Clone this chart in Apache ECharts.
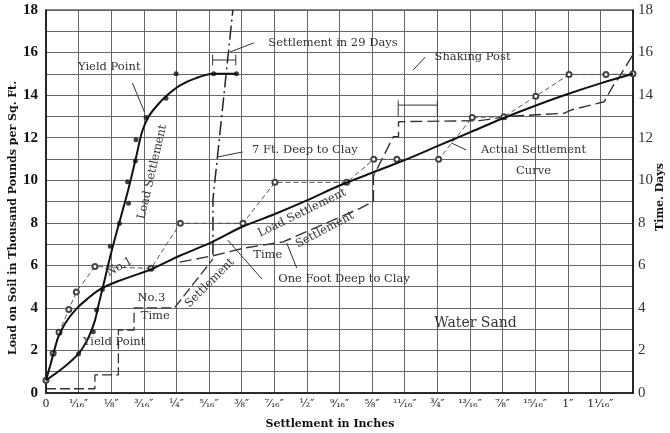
<!DOCTYPE html>
<html><head><meta charset="utf-8">
<script src="https://cdn.jsdelivr.net/npm/echarts@6/dist/echarts.min.js"></script>
<style>html,body{margin:0;padding:0;background:#fff}#c{width:670px;height:433px}</style>
</head><body><div id="c"></div>
<script>
// x in sixteenths of an inch, y in thousand lb/sq.ft (left) or days (right)
const xTickLabels = ["0","¹⁄₁₆″","⅛″","³⁄₁₆″","¼″","⁵⁄₁₆″","⅜″","⁷⁄₁₆″","½″","⁹⁄₁₆″","⅝″","¹¹⁄₁₆″","¾″","¹³⁄₁₆″","⅞″","¹⁵⁄₁₆″","1″","1¹⁄₁₆″",""];
const loadCurve = [[0,0.6],[0.5,1.15],[1.0,1.85],[1.3,2.6],[1.5,3.4],[1.62,4.2],[1.78,5.2],[1.95,6.3],[2.12,7.3],[2.3,8.3],[2.53,9.6],[2.75,11.0],[2.95,12.3],[3.15,13.0],[3.4,13.5],[3.68,13.95],[4.1,14.45],[4.6,14.8],[5.14,15.0],[5.84,15.0]];
const loadDots = [[1.0,1.85],[1.45,2.88],[1.55,3.9],[1.73,4.87],[1.97,6.9],[2.25,7.97],[2.53,8.92],[2.5,9.93],[2.74,10.9],[2.76,11.9],[3.07,12.95],[3.68,13.85],[3.99,15.0],[5.14,15.0],[5.84,15.0]];
const actualCurve = [[0,0.6],[0.15,1.4],[0.37,2.6],[0.6,3.3],[0.93,3.95],[1.25,4.4],[1.63,4.85],[2.2,5.25],[3.2,5.8],[4.1,6.45],[5.1,7.1],[6.0,7.8],[7,8.4],[8,9.05],[9,9.75],[10,10.35],[11,10.95],[12,11.6],[13,12.25],[14,12.9],[15,13.5],[16,14.05],[17,14.55],[18,15.0]];
const no1Points = [[0,0.6],[0.22,1.87],[0.4,2.85],[0.7,3.92],[0.93,4.75],[1.5,5.94],[3.22,5.86],[4.12,7.98],[6.04,7.98],[7.02,9.9],[9.22,9.9],[10.05,10.98],[10.76,10.98],[12.04,10.98],[13.07,12.95],[14.04,12.98],[15.02,13.95],[16.04,14.97],[17.17,14.97],[18,15.0]];
const timeNo3 = [[0,0.2],[1.5,0.2],[1.5,0.85],[2.22,0.85],[2.22,2.96],[2.7,2.96],[2.7,4.0],[3.94,4.0],[5.12,6.3]];
const timeMain = [[4.1,6.15],[5.12,6.45],[6.04,6.8],[7.27,7.1],[9.63,8.68],[10.04,9.0],[10.04,10.2],[10.65,12.04],[10.81,12.04],[10.81,12.75],[13.3,12.8],[14.2,13.0],[15.9,13.15],[16.1,13.3],[17.12,13.69],[17.37,14.39],[17.6,14.9],[18,15.9]];
const days29 = [[5.12,6.5],[5.12,9.1],[5.73,18]];

const notes = [
  {t:"Yield Point", at:[1.94,15.32], r:0},
  {t:"Settlement in 29 Days", at:[8.8,16.45], r:0},
  {t:"7 Ft. Deep to Clay", at:[7.94,11.42], r:0},
  {t:"Load Settlement", at:[3.26,10.39], r:77},
  {t:"No.1", at:[2.25,5.92], r:28},
  {t:"No.3", at:[3.23,4.46], r:0},
  {t:"Time", at:[3.35,3.62], r:0},
  {t:"Yield Point", at:[2.09,2.4], r:0},
  {t:"Settlement", at:[5.02,5.17], r:45},
  {t:"Load Settlement", at:[7.85,8.46], r:26},
  {t:"Time", at:[6.8,6.48], r:0},
  {t:"Settlement", at:[8.55,7.66], r:28},
  {t:"One Foot Deep to Clay", at:[9.14,5.36], r:0},
  {t:"Shaking Post", at:[13.08,15.79], r:0},
  {t:"Actual Settlement", at:[14.95,11.42], r:0},
  {t:"Curve", at:[14.95,10.43], r:0},
  {t:"Water Sand", at:[13.17,3.29], r:0, big:true}
];
const leaders = [
  [[2.65,14.57],[3.02,13.2]],
  [[6.37,16.45],[5.63,16.02]],
  [[6.03,11.33],[5.26,11.09]],
  [[6.62,5.36],[5.57,7.19]],
  [[7.69,5.87],[7.38,7.05]],
  [[11.63,15.79],[11.26,15.18]],
  [[12.89,11.42],[12.43,11.75]],
  [[5.11,15.65],[5.82,15.65]],
  [[5.11,15.4],[5.11,15.9]],
  [[5.82,15.4],[5.82,15.9]],
  [[10.8,13.53],[12.0,13.53]],
  [[10.8,13.0],[10.8,13.75]],
  [[12.0,13.0],[12.0,13.75]]
];

const serif = '"DejaVu Serif", "Liberation Serif", serif';
const chart = echarts.init(document.getElementById('c'), null, {renderer:'canvas'});
const yAx = (pos, bold) => ({
  type:'value', position:pos, min:0, max:18, interval:1,
  axisLine:{show:true, lineStyle:{color:'#111', width:1.5}},
  axisTick:{show:false},
  splitLine:{show:pos==='left', lineStyle:{color:'#666', width:1}},
  axisLabel:{color: bold ? '#111' : '#333', fontFamily:'"Liberation Serif", serif', fontWeight: bold ? 'bold' : 'normal', fontSize:15,
    margin: bold ? 8 : 5, formatter: v => (v % 2 === 0 ? String(v) : '')}
});
chart.setOption({
  animation:false,
  backgroundColor:'#fff',
  grid:{left:46, right:37, top:10, bottom:40, show:true, borderColor:'#111', borderWidth:1.2},
  xAxis:{type:'value', min:0, max:18, interval:1,
    axisLine:{show:true, lineStyle:{color:'#111', width:1.5}}, axisTick:{show:false},
    splitLine:{show:true, lineStyle:{color:'#666', width:1}},
    axisLabel:{color:'#222', fontFamily:serif, fontSize:11, margin:6, formatter: v => xTickLabels[Math.round(v)] || ''}},
  yAxis:[yAx('left', true), yAx('right', false)],
  series:[
    {type:'line', data:loadCurve, smooth:0.3, showSymbol:false, lineStyle:{color:'#111', width:2}, z:5},
    {type:'scatter', data:loadDots, symbol:'circle', symbolSize:5, itemStyle:{color:'#111'}, z:6},
    {type:'line', data:actualCurve, smooth:0.3, showSymbol:false, lineStyle:{color:'#111', width:2}, z:5},
    {type:'line', data:no1Points, symbol:'emptyCircle', symbolSize:5, showSymbol:true,
      itemStyle:{color:'#444', borderWidth:1}, lineStyle:{color:'#555', width:1, type:[5,3]}, z:4},
    {type:'line', yAxisIndex:1, data:timeNo3, showSymbol:false, lineStyle:{color:'#333', width:1.3, type:[10,4]}, z:3},
    {type:'line', yAxisIndex:1, data:timeMain, showSymbol:false, lineStyle:{color:'#333', width:1.4, type:[12,5]}, z:3},
    {type:'line', data:days29, showSymbol:false, lineStyle:{color:'#222', width:1.5, type:[14,4,2,4]}, z:3}
  ]
});

const px = p => chart.convertToPixel({gridIndex:0}, p);
const g = [];
notes.forEach(n => {
  const [x,y] = px(n.at);
  g.push({type:'text', x:x, y:y, rotation:n.r*Math.PI/180, z:20,
    style:{text:n.t, fill:'#333', font:(n.big ? '14px ' : '11.5px ') + serif, textAlign:'center', textVerticalAlign:'middle',
      backgroundColor: n.r ? null : null}});
});
leaders.forEach(l => {
  const a = px(l[0]), b = px(l[1]);
  g.push({type:'line', z:19, shape:{x1:a[0], y1:a[1], x2:b[0], y2:b[1]}, style:{stroke:'#333', lineWidth:1}});
});
g.push({type:'text', x:13, y:218, rotation:Math.PI/2, z:20,
  style:{text:'Load on Soil in Thousand Pounds per Sq. Ft.', fill:'#111', font:'bold 11px ' + serif, textAlign:'center', textVerticalAlign:'middle'}});
g.push({type:'text', x:660, y:197, rotation:Math.PI/2, z:20,
  style:{text:'Time. Days', fill:'#111', font:'bold 11px ' + serif, textAlign:'center', textVerticalAlign:'middle'}});
g.push({type:'text', x:330, y:424, z:20,
  style:{text:'Settlement in Inches', fill:'#111', font:'bold 11px ' + serif, textAlign:'center', textVerticalAlign:'middle'}});
chart.setOption({graphic:g});
</script></body></html>
